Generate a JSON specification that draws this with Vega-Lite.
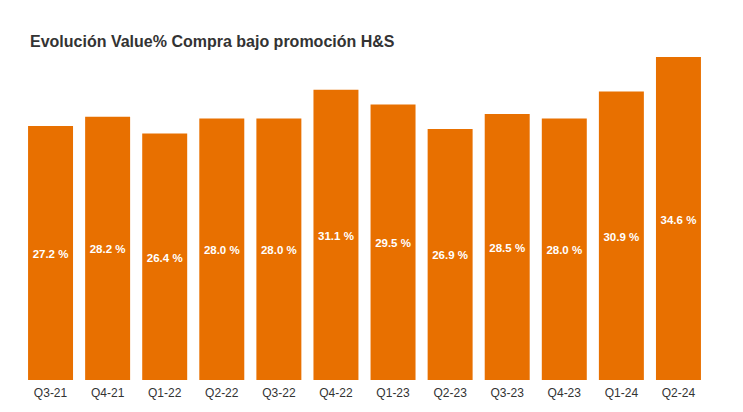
{
  "$schema": "https://vega.github.io/schema/vega-lite/v6.json",
  "autosize": "none",
  "width": 685,
  "height": 323,
  "padding": {"left": 22, "top": 57, "right": 36, "bottom": 32},
  "background": "white",
  "title": {
    "text": "Evolución Value% Compra bajo promoción H&S",
    "anchor": "start",
    "frame": "group",
    "dx": 8,
    "offset": 7,
    "font": "Liberation Sans",
    "fontSize": 16,
    "fontWeight": "bold",
    "color": "#333333"
  },
  "config": {"view": {"stroke": null}, "font": "Liberation Sans"},
  "data": {
    "values": [
      {"q": "Q3-21", "v": 27.2},
      {"q": "Q4-21", "v": 28.2},
      {"q": "Q1-22", "v": 26.4},
      {"q": "Q2-22", "v": 28.0},
      {"q": "Q3-22", "v": 28.0},
      {"q": "Q4-22", "v": 31.1},
      {"q": "Q1-23", "v": 29.5},
      {"q": "Q2-23", "v": 26.9},
      {"q": "Q3-23", "v": 28.5},
      {"q": "Q4-23", "v": 28.0},
      {"q": "Q1-24", "v": 30.9},
      {"q": "Q2-24", "v": 34.6}
    ]
  },
  "encoding": {
    "x": {
      "field": "q",
      "type": "nominal",
      "sort": null,
      "scale": {"paddingInner": 0.212, "paddingOuter": 0.106},
      "axis": {
        "title": null,
        "labelAngle": 0,
        "domain": false,
        "ticks": false,
        "labelPadding": 7,
        "labelFontSize": 12,
        "labelColor": "#333333",
        "labelFont": "Liberation Sans"
      }
    }
  },
  "layer": [
    {
      "mark": {"type": "bar", "color": "#E87000"},
      "encoding": {
        "y": {
          "field": "v",
          "type": "quantitative",
          "scale": {"domain": [0, 34.6], "nice": false},
          "axis": null
        }
      }
    },
    {
      "mark": {
        "type": "text",
        "color": "white",
        "fontWeight": "bold",
        "fontSize": 11.5,
        "baseline": "middle",
        "align": "center",
        "dy": 2,
        "text": {"expr": "format(datum.v, '.1f') + ' %'"}
      },
      "encoding": {
        "y": {
          "field": "v",
          "type": "quantitative",
          "scale": {"domain": [0, 69.2], "nice": false},
          "axis": null
        }
      }
    }
  ],
  "resolve": {"scale": {"y": "independent"}}
}
